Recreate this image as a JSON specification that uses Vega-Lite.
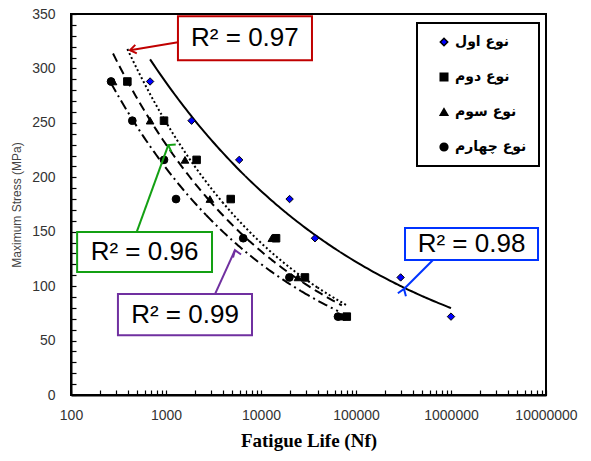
{
  "$schema": "https://vega.github.io/schema/vega-lite/v6.json",
  "width": 475,
  "height": 381,
  "autosize": {"type": "none"},
  "padding": {"left": 71, "top": 14, "right": 45, "bottom": 66},
  "background": "white",
  "datasets": {
    "points": [
      {"type": "نوع اول", "N": 680, "S": 288},
      {"type": "نوع اول", "N": 1860, "S": 252},
      {"type": "نوع اول", "N": 5900, "S": 216},
      {"type": "نوع اول", "N": 20000, "S": 180},
      {"type": "نوع اول", "N": 37000, "S": 144},
      {"type": "نوع اول", "N": 295000, "S": 108},
      {"type": "نوع اول", "N": 1000000, "S": 72},
      {"type": "نوع دوم", "N": 392, "S": 288},
      {"type": "نوع دوم", "N": 953, "S": 252},
      {"type": "نوع دوم", "N": 2100, "S": 216},
      {"type": "نوع دوم", "N": 4800, "S": 180},
      {"type": "نوع دوم", "N": 14400, "S": 144},
      {"type": "نوع دوم", "N": 29000, "S": 108},
      {"type": "نوع دوم", "N": 80000, "S": 72},
      {"type": "نوع سوم", "N": 277, "S": 288},
      {"type": "نوع سوم", "N": 680, "S": 252},
      {"type": "نوع سوم", "N": 1585, "S": 216},
      {"type": "نوع سوم", "N": 2900, "S": 180},
      {"type": "نوع سوم", "N": 13000, "S": 144},
      {"type": "نوع سوم", "N": 24500, "S": 108},
      {"type": "نوع سوم", "N": 71000, "S": 72},
      {"type": "نوع چهارم", "N": 264, "S": 288},
      {"type": "نوع چهارم", "N": 442, "S": 252},
      {"type": "نوع چهارم", "N": 953, "S": 216},
      {"type": "نوع چهارم", "N": 1275, "S": 180},
      {"type": "نوع چهارم", "N": 6500, "S": 144},
      {"type": "نوع چهارم", "N": 19900, "S": 108},
      {"type": "نوع چهارم", "N": 64600, "S": 72}
    ],
    "notes": [
      {"fit": "0.97", "label": "R² = 0.97", "bx1": 1336, "bx2": 34400, "by1": 307.6, "by2": 348, "tx": 6770, "ty": 327.8, "ax": 1336, "ay": 324, "hx": 418, "hy": 316.8},
      {"fit": "0.96", "label": "R² = 0.96", "bx1": 116, "bx2": 3050, "by1": 113, "by2": 149.7, "tx": 594, "ty": 131.4, "ax": 491, "ay": 149.7, "hx": 1057, "hy": 229.6},
      {"fit": "0.99", "label": "R² = 0.99", "bx1": 312, "bx2": 8040, "by1": 55, "by2": 92.7, "tx": 1585, "ty": 73.9, "ax": 3280, "ay": 92.7, "hx": 5320, "hy": 133},
      {"fit": "0.98", "label": "R² = 0.98", "bx1": 328000, "bx2": 8240000, "by1": 124, "by2": 153.4, "tx": 1644000, "ty": 138.7, "ax": 646000, "ay": 124, "hx": 320000, "hy": 97.4}
    ]
  },
  "layer": [
    {
      "data": {"name": "points"},
      "transform": [{"filter": {"field": "type", "equal": "نوع اول"}}, {"regression": "S", "on": "N", "method": "pow", "extent": [680, 6800]}],
      "mark": {"type": "line", "color": "black", "strokeWidth": 2},
      "encoding": {
        "x": {
          "field": "N", "type": "quantitative",
          "scale": {"type": "log", "domain": [100, 10000000], "nice": false},
          "axis": {
            "values": [100,200,300,400,500,600,700,800,900,1000,2000,3000,4000,5000,6000,7000,8000,9000,10000,20000,30000,40000,50000,60000,70000,80000,90000,100000,200000,300000,400000,500000,600000,700000,800000,900000,1000000,2000000,3000000,4000000,5000000,6000000,7000000,8000000,9000000,10000000],
            "tickCount": 60,
            "labelExpr": "(abs(log(datum.value)/LN10 - round(log(datum.value)/LN10)) < 0.000001) ? format(datum.value, 'd') : ''",
            "labelOverlap": false,
            "labelFlush": false,
            "labelBound": false,
            "ticks": false,
            "grid": true,
            "gridColor": "black",
            "gridWidth": 1.2,
            "gridDash": [5, 2000],
            "gridDashOffset": 1629,
            "gridOpacity": 1,
            "labelPadding": 13,
            "title": "Fatigue Life (Nf)",
            "titleFont": "Liberation Serif",
            "titleFontSize": 19,
            "titleFontWeight": "bold",
            "titleColor": "black",
            "titlePadding": 9
          }
        },
        "y": {
          "field": "S", "type": "quantitative",
          "scale": {"domain": [0, 350], "nice": false},
          "axis": {
            "values": [0,10,20,30,40,50,60,70,80,90,100,110,120,130,140,150,160,170,180,190,200,210,220,230,240,250,260,270,280,290,300,310,320,330,340,350],
            "tickCount": 50,
            "labelExpr": "(datum.value % 50 == 0) ? format(datum.value, 'd') : ''",
            "labelOverlap": false,
            "ticks": false,
            "grid": true,
            "gridColor": "black",
            "gridWidth": 1.2,
            "gridDash": [5, 2000],
            "gridOpacity": 1,
            "labelPadding": 16,
            "title": "Maximum Stress (MPa)",
            "titleFont": "Liberation Sans",
            "titleFontSize": 12,
            "titleFontWeight": "normal",
            "titleColor": "#444",
            "titlePadding": 8
          }
        }
      }
    },
    {
      "data": {"name": "points"},
      "transform": [{"filter": {"field": "type", "equal": "نوع اول"}}, {"regression": "S", "on": "N", "method": "pow", "extent": [6800, 68000]}],
      "mark": {"type": "line", "color": "black", "strokeWidth": 2},
      "encoding": {"x": {"field": "N", "type": "quantitative"}, "y": {"field": "S", "type": "quantitative"}}
    },
    {
      "data": {"name": "points"},
      "transform": [{"filter": {"field": "type", "equal": "نوع اول"}}, {"regression": "S", "on": "N", "method": "pow", "extent": [68000, 1000000]}],
      "mark": {"type": "line", "color": "black", "strokeWidth": 2},
      "encoding": {"x": {"field": "N", "type": "quantitative"}, "y": {"field": "S", "type": "quantitative"}}
    },
    {
      "data": {"name": "points"},
      "transform": [{"filter": {"field": "type", "equal": "نوع دوم"}}, {"regression": "S", "on": "N", "method": "pow", "extent": [392, 3920]}],
      "mark": {"type": "line", "color": "black", "strokeWidth": 2, "strokeDash": [2, 2.5]},
      "encoding": {"x": {"field": "N", "type": "quantitative"}, "y": {"field": "S", "type": "quantitative"}}
    },
    {
      "data": {"name": "points"},
      "transform": [{"filter": {"field": "type", "equal": "نوع دوم"}}, {"regression": "S", "on": "N", "method": "pow", "extent": [3920, 39200]}],
      "mark": {"type": "line", "color": "black", "strokeWidth": 2, "strokeDash": [2, 2.5]},
      "encoding": {"x": {"field": "N", "type": "quantitative"}, "y": {"field": "S", "type": "quantitative"}}
    },
    {
      "data": {"name": "points"},
      "transform": [{"filter": {"field": "type", "equal": "نوع دوم"}}, {"regression": "S", "on": "N", "method": "pow", "extent": [39200, 80000]}],
      "mark": {"type": "line", "color": "black", "strokeWidth": 2, "strokeDash": [2, 2.5]},
      "encoding": {"x": {"field": "N", "type": "quantitative"}, "y": {"field": "S", "type": "quantitative"}}
    },
    {
      "data": {"name": "points"},
      "transform": [{"filter": {"field": "type", "equal": "نوع سوم"}}, {"regression": "S", "on": "N", "method": "pow", "extent": [277, 2770]}],
      "mark": {"type": "line", "color": "black", "strokeWidth": 2, "strokeDash": [9, 5]},
      "encoding": {"x": {"field": "N", "type": "quantitative"}, "y": {"field": "S", "type": "quantitative"}}
    },
    {
      "data": {"name": "points"},
      "transform": [{"filter": {"field": "type", "equal": "نوع سوم"}}, {"regression": "S", "on": "N", "method": "pow", "extent": [2770, 27700]}],
      "mark": {"type": "line", "color": "black", "strokeWidth": 2, "strokeDash": [9, 5]},
      "encoding": {"x": {"field": "N", "type": "quantitative"}, "y": {"field": "S", "type": "quantitative"}}
    },
    {
      "data": {"name": "points"},
      "transform": [{"filter": {"field": "type", "equal": "نوع سوم"}}, {"regression": "S", "on": "N", "method": "pow", "extent": [27700, 71000]}],
      "mark": {"type": "line", "color": "black", "strokeWidth": 2, "strokeDash": [9, 5]},
      "encoding": {"x": {"field": "N", "type": "quantitative"}, "y": {"field": "S", "type": "quantitative"}}
    },
    {
      "data": {"name": "points"},
      "transform": [{"filter": {"field": "type", "equal": "نوع چهارم"}}, {"regression": "S", "on": "N", "method": "pow", "extent": [264, 2640]}],
      "mark": {"type": "line", "color": "black", "strokeWidth": 2, "strokeDash": [10, 4, 2, 4]},
      "encoding": {"x": {"field": "N", "type": "quantitative"}, "y": {"field": "S", "type": "quantitative"}}
    },
    {
      "data": {"name": "points"},
      "transform": [{"filter": {"field": "type", "equal": "نوع چهارم"}}, {"regression": "S", "on": "N", "method": "pow", "extent": [2640, 26400]}],
      "mark": {"type": "line", "color": "black", "strokeWidth": 2, "strokeDash": [10, 4, 2, 4]},
      "encoding": {"x": {"field": "N", "type": "quantitative"}, "y": {"field": "S", "type": "quantitative"}}
    },
    {
      "data": {"name": "points"},
      "transform": [{"filter": {"field": "type", "equal": "نوع چهارم"}}, {"regression": "S", "on": "N", "method": "pow", "extent": [26400, 64600]}],
      "mark": {"type": "line", "color": "black", "strokeWidth": 2, "strokeDash": [10, 4, 2, 4]},
      "encoding": {"x": {"field": "N", "type": "quantitative"}, "y": {"field": "S", "type": "quantitative"}}
    },
    {
      "data": {"name": "points"},
      "mark": {"type": "point", "filled": true, "stroke": "black", "strokeWidth": 1, "opacity": 1},
      "encoding": {
        "x": {"field": "N", "type": "quantitative"},
        "y": {"field": "S", "type": "quantitative"},
        "shape": {
          "field": "type", "type": "nominal",
          "scale": {"domain": ["نوع اول", "نوع دوم", "نوع سوم", "نوع چهارم"], "range": ["diamond", "square", "triangle-up", "circle"]},
          "legend": {"title": null, "orient": "none", "legendX": 346, "legendY": 9}
        },
        "fill": {
          "field": "type", "type": "nominal",
          "scale": {"domain": ["نوع اول", "نوع دوم", "نوع سوم", "نوع چهارم"], "range": ["#0000ff", "black", "black", "black"]},
          "legend": {"title": null, "orient": "none", "legendX": 346, "legendY": 9}
        },
        "size": {
          "field": "type", "type": "nominal",
          "scale": {"domain": ["نوع اول", "نوع دوم", "نوع سوم", "نوع چهارم"], "range": [55, 60, 80, 110]},
          "legend": {"title": null, "orient": "none", "legendX": 346, "legendY": 9}
        }
      }
    },
    {
      "data": {"name": "notes"},
      "mark": {"type": "rule", "strokeWidth": 2},
      "encoding": {
        "x": {"field": "ax", "type": "quantitative"},
        "y": {"field": "ay", "type": "quantitative"},
        "x2": {"field": "hx"},
        "y2": {"field": "hy"},
        "stroke": {
          "field": "fit", "type": "nominal", "legend": null,
          "scale": {"domain": ["0.97", "0.96", "0.99", "0.98"], "range": ["#c00000", "#13a013", "#7030a0", "#0033ff"]}
        }
      }
    },
    {
      "data": {"name": "notes"},
      "mark": {"type": "point", "shape": "M-1,-0.7L0,0L-1,0.7", "filled": false, "strokeWidth": 2, "size": 150, "opacity": 1},
      "encoding": {
        "x": {"field": "hx", "type": "quantitative"},
        "y": {"field": "hy", "type": "quantitative"},
        "stroke": {"field": "fit", "type": "nominal", "legend": null},
        "angle": {
          "field": "fit", "type": "nominal", "legend": null,
          "scale": {"domain": ["0.97", "0.96", "0.99", "0.98"], "range": [170, 290, 295, 137]}
        }
      }
    },
    {
      "data": {"name": "notes"},
      "mark": {"type": "rect", "fill": "white", "strokeWidth": 2},
      "encoding": {
        "x": {"field": "bx1", "type": "quantitative"},
        "x2": {"field": "bx2"},
        "y": {"field": "by1", "type": "quantitative"},
        "y2": {"field": "by2"},
        "stroke": {"field": "fit", "type": "nominal", "legend": null}
      }
    },
    {
      "data": {"name": "notes"},
      "mark": {"type": "text", "font": "Liberation Sans", "fontSize": 26, "color": "black", "align": "center", "baseline": "middle"},
      "encoding": {
        "x": {"field": "tx", "type": "quantitative"},
        "y": {"field": "ty", "type": "quantitative"},
        "text": {"field": "label"}
      }
    }
  ],
  "config": {
    "view": {"stroke": "black", "strokeWidth": 2},
    "axis": {
      "domainColor": "black",
      "domainWidth": 2,
      "labelFont": "Liberation Sans",
      "labelFontSize": 14,
      "labelColor": "#333"
    },
    "legend": {
      "padding": 12,
      "strokeColor": "black",
      "strokeWidth": 2,
      "fillColor": "white",
      "labelFont": "DejaVu Sans",
      "labelFontWeight": "bold",
      "labelFontSize": 14,
      "labelColor": "black",
      "rowPadding": 21,
      "symbolOffset": 8,
      "labelOffset": 4
    }
  }
}
